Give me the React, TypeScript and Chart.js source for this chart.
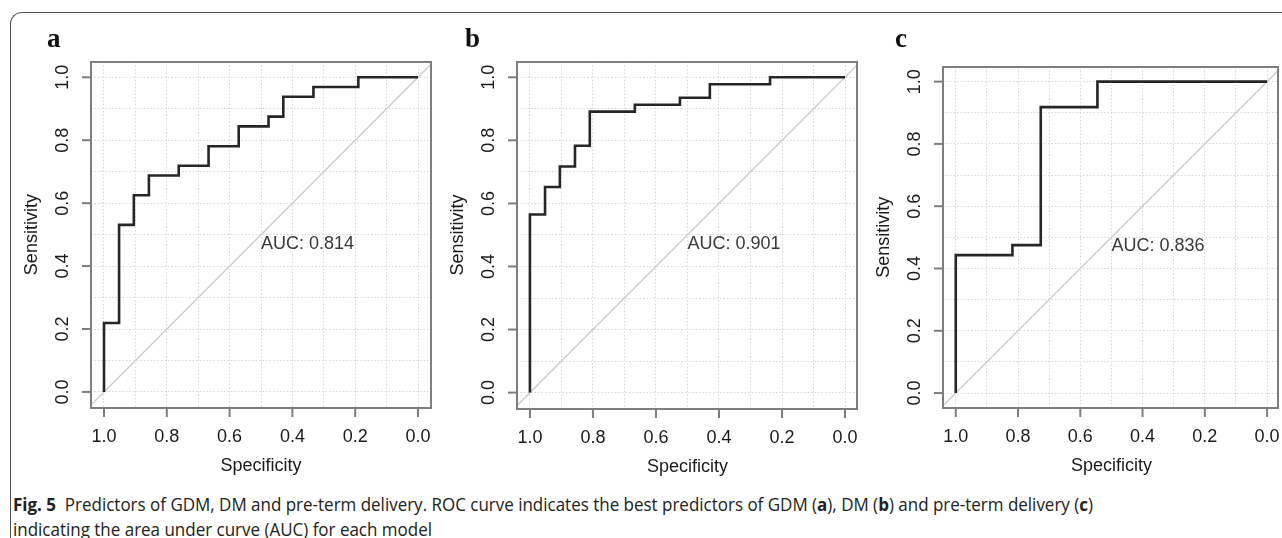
import React, { useEffect, useLayoutEffect, useRef } from 'react';
import { Chart, registerables } from 'chart.js';

Chart.register(...registerables);

// ---- data ----
const TICK_VALUES = [1.0, 0.8, 0.6, 0.4, 0.2, 0.0];
const TICK_LABELS = ['1.0', '0.8', '0.6', '0.4', '0.2', '0.0'];
const GRID_VALUES = [0, 0.1, 0.2, 0.3, 0.4, 0.5, 0.6, 0.7, 0.8, 0.9, 1.0];
const X_TITLE = 'Specificity';
const Y_TITLE = 'Sensitivity';

// panel a: GDM
const SPEC_A = [1, 1, 0.952, 0.905, 0.857, 0.762, 0.667, 0.571, 0.476, 0.429, 0.333, 0.19, 0];
const SENS_A = [0, 0.219, 0.531, 0.625, 0.688, 0.719, 0.781, 0.844, 0.875, 0.938, 0.969, 1.0, 1.0];
const AUC_A = 'AUC: 0.814';

// panel b: DM
const SPEC_B = [1, 1, 0.952, 0.905, 0.857, 0.81, 0.667, 0.524, 0.429, 0.238, 0];
const SENS_B = [0, 0.565, 0.652, 0.717, 0.783, 0.891, 0.913, 0.935, 0.978, 1.0, 1.0];
const AUC_B = 'AUC: 0.901';

// panel c: pre-term delivery
const SPEC_C = [1, 1, 0.818, 0.727, 0.545, 0];
const SENS_C = [0, 0.443, 0.475, 0.918, 1.0, 1.0];
const AUC_C = 'AUC: 0.836';

// chance line (sensitivity = 1 - specificity), spans past the plot edges and is clipped
const DIAG_SPEC = [1.2, -0.2];

const PANEL_LETTERS = ['a', 'b', 'c'];

// ---- layout ----
const CANVAS_H = 490;
const PANELS = [
  { letter: PANEL_LETTERS[0], spec: SPEC_A, sens: SENS_A, auc: AUC_A, left: 14, width: 430,
    box: { l: 91, t: 62, r: 431, b: 408 }, x: [-0.0414, 1.0414], y: [-0.051, 1.0486], letterX: 47 },
  { letter: PANEL_LETTERS[1], spec: SPEC_B, sens: SENS_B, auc: AUC_B, left: 444, width: 420,
    box: { l: 517, t: 62, r: 857, b: 409 }, x: [-0.038, 1.041], y: [-0.052, 1.0485], letterX: 465 },
  { letter: PANEL_LETTERS[2], spec: SPEC_C, sens: SENS_C, auc: AUC_C, left: 864, width: 418,
    box: { l: 943, t: 67, r: 1278, b: 408 }, x: [-0.035, 1.041], y: [-0.048, 1.047], letterX: 895 },
];

const SANS = '"Liberation Sans", Arial, sans-serif';
const BOX_COLOR = '#7e7e7e';

function Panel({ p }: { p: any }) {
  const ref = useRef<HTMLCanvasElement | null>(null);
  useEffect(() => {
    const canvas = ref.current!;
    const decor = {
      id: 'rocDecor',
      afterDraw(chart: any) {
        const { ctx, chartArea: a } = chart;
        const xs = chart.scales.x;
        const ys = chart.scales.y;
        ctx.save();
        // box
        ctx.strokeStyle = BOX_COLOR;
        ctx.lineWidth = 2;
        ctx.strokeRect(a.left, a.top, a.right - a.left, a.bottom - a.top);
        // x ticks
        ctx.lineWidth = 2;
        ctx.fillStyle = '#1a1a1a';
        ctx.font = `18px ${SANS}`;
        ctx.textAlign = 'center';
        ctx.textBaseline = 'middle';
        TICK_VALUES.forEach((v, i) => {
          const px = xs.getPixelForValue(v);
          ctx.beginPath();
          ctx.moveTo(px, a.bottom);
          ctx.lineTo(px, a.bottom + 9);
          ctx.stroke();
          ctx.fillText(TICK_LABELS[i], px, a.bottom + 29);
        });
        // y ticks
        TICK_VALUES.forEach((v, i) => {
          const py = ys.getPixelForValue(v);
          ctx.beginPath();
          ctx.moveTo(a.left, py);
          ctx.lineTo(a.left - 9, py);
          ctx.stroke();
          ctx.save();
          ctx.translate(a.left - 28, py);
          ctx.rotate(-Math.PI / 2);
          ctx.fillText(TICK_LABELS[i], 0, 0);
          ctx.restore();
        });
        // titles
        ctx.fillText(X_TITLE, xs.getPixelForValue(0.5), a.bottom + 58);
        ctx.save();
        ctx.translate(a.left - 59, ys.getPixelForValue(0.5));
        ctx.rotate(-Math.PI / 2);
        ctx.fillText(Y_TITLE, 0, 0);
        ctx.restore();
        // AUC
        ctx.fillStyle = '#3a3a3a';
        ctx.textAlign = 'left';
        ctx.textBaseline = 'top';
        ctx.fillText(p.auc, xs.getPixelForValue(0.5), ys.getPixelForValue(0.5));
        // panel letter
        ctx.fillStyle = '#111';
        ctx.font = `bold 27px "Liberation Serif", "Times New Roman", serif`;
        ctx.textBaseline = 'alphabetic';
        ctx.fillText(p.letter, p.letterX - p.left, 47);
        ctx.restore();
      },
    };
    const gridTicks = (s: any) => {
      s.ticks = GRID_VALUES.map((v) => ({ value: v }));
    };
    const chart = new Chart(canvas, {
      type: 'scatter',
      data: {
        datasets: [
          {
            data: DIAG_SPEC.map((s) => ({ x: s, y: 1 - s })),
            showLine: true,
            borderColor: '#cdcdcd',
            borderWidth: 1.4,
            pointRadius: 0,
            clip: 0,
            order: 2,
          } as any,
          {
            data: p.spec.map((s: number, i: number) => ({ x: s, y: p.sens[i] })),
            showLine: true,
            stepped: 'before',
            borderColor: '#262626',
            borderWidth: 2.6,
            pointRadius: 0,
            clip: 0,
            order: 1,
          } as any,
        ],
      },
      options: {
        animation: false,
        responsive: false,
        maintainAspectRatio: false,
        devicePixelRatio: 1,
        events: [],
        layout: {
          padding: {
            left: p.box.l - p.left,
            top: p.box.t,
            right: p.left + p.width - p.box.r,
            bottom: CANVAS_H - p.box.b,
          },
        },
        plugins: { legend: { display: false }, tooltip: { enabled: false } },
        scales: {
          x: {
            type: 'linear',
            reverse: true,
            min: p.x[0],
            max: p.x[1],
            afterBuildTicks: gridTicks,
            ticks: { display: false },
            grid: { color: '#d8d8d8', lineWidth: 1, drawTicks: false },
            border: { display: false, dash: [1.5, 2] },
          },
          y: {
            type: 'linear',
            min: p.y[0],
            max: p.y[1],
            afterBuildTicks: gridTicks,
            ticks: { display: false },
            grid: { color: '#d8d8d8', lineWidth: 1, drawTicks: false },
            border: { display: false, dash: [1.5, 2] },
          },
        },
      } as any,
      plugins: [decor],
    });
    return () => chart.destroy();
  }, [p]);
  return (
    <canvas
      ref={ref}
      width={p.width}
      height={CANVAS_H}
      style={{ position: 'absolute', left: p.left, top: 0, width: p.width, height: CANVAS_H }}
    />
  );
}

const CAPTION_FONT = '"Open Sans", "Noto Sans", sans-serif';

function Caption() {
  const boxRef = useRef<HTMLDivElement | null>(null);
  const line1Ref = useRef<HTMLSpanElement | null>(null);
  useLayoutEffect(() => {
    const w = line1Ref.current!.getBoundingClientRect().width;
    const k = 1080 / w;
    boxRef.current!.style.transform = `scaleX(${k})`;
  }, []);
  return (
    <div
      ref={boxRef}
      style={{
        position: 'absolute',
        left: 13,
        top: 492,
        fontFamily: CAPTION_FONT,
        fontSize: 18,
        lineHeight: '25px',
        color: '#222',
        whiteSpace: 'nowrap',
        transformOrigin: '0 0',
      }}
    >
      <div>
        <span ref={line1Ref}>
          <b>Fig. 5</b>&nbsp; Predictors of GDM, DM and pre-term delivery. ROC curve indicates the best predictors of GDM (<b>a</b>), DM (<b>b</b>) and pre-term delivery (<b>c</b>)
        </span>
      </div>
      <div>indicating the area under curve (AUC) for each model</div>
    </div>
  );
}

export default function App() {
  return (
    <div
      style={{
        position: 'fixed',
        left: 0,
        top: 0,
        width: 1282,
        height: 538,
        background: '#fff',
        overflow: 'hidden',
      }}
    >
      <div
        style={{
          position: 'absolute',
          left: 10,
          top: 12,
          width: 1400,
          height: 700,
          borderLeft: '1.5px solid #505050',
          borderTop: '1.5px solid #505050',
          borderTopLeftRadius: 12,
        }}
      />
      {PANELS.map((p) => (
        <Panel key={p.letter} p={p} />
      ))}
      <Caption />
    </div>
  );
}
